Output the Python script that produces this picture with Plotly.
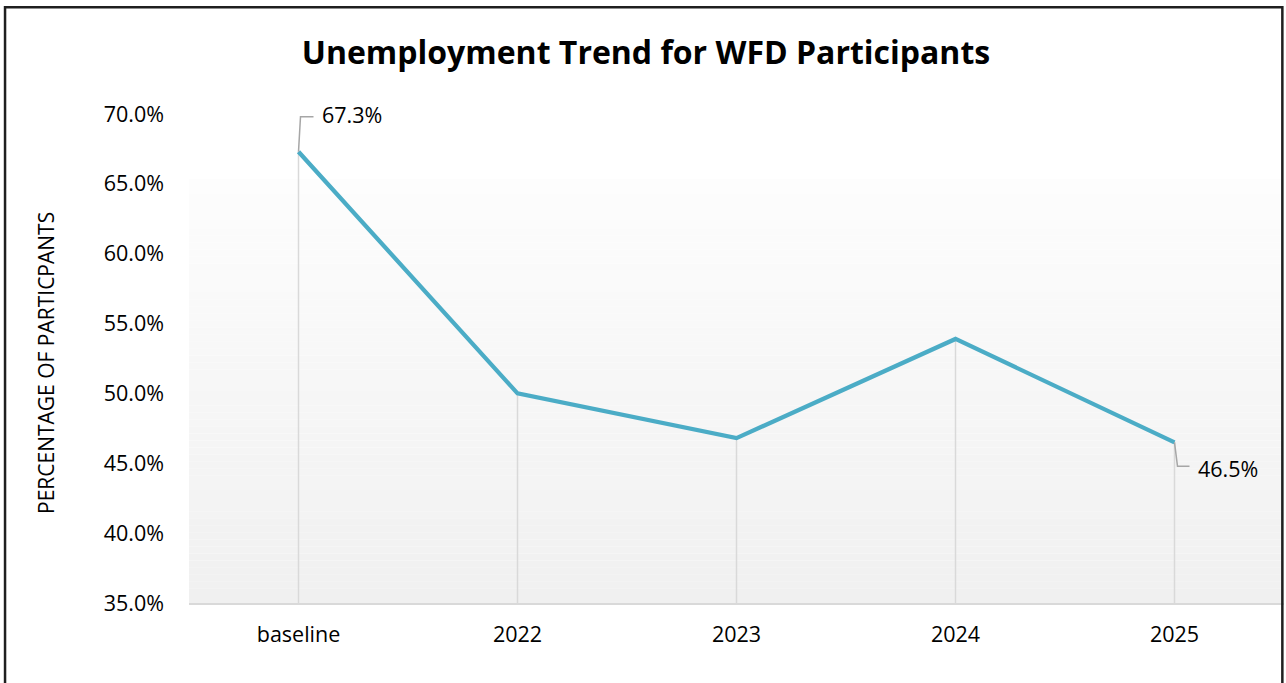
import plotly.graph_objects as go

# Share of WFD participants who were unemployed at each checkpoint
categories = ["baseline", "2022", "2023", "2024", "2025"]
unemployment_pct = [67.3, 50.0, 46.8, 53.9, 46.5]

y_ticks = [35, 40, 45, 50, 55, 60, 65, 70]
y_tick_labels = [f"{t:.1f}%" for t in y_ticks]

LINE_COLOR = "#4BACC6"
DROP_COLOR = "#D9D9D9"
LEADER_COLOR = "#A6A6A6"
FONT = "Open Sans"
LABEL_SIZE = 21.5

x_idx = list(range(len(categories)))

fig = go.Figure()

# Vertical drop lines from each point down to the axis floor
drop_x, drop_y = [], []
for i, v in zip(x_idx, unemployment_pct):
    drop_x += [i, i, None]
    drop_y += [y_ticks[0], v, None]
fig.add_trace(go.Scatter(
    x=drop_x, y=drop_y, mode="lines",
    line=dict(color=DROP_COLOR, width=1.5),
    hoverinfo="skip", showlegend=False,
))

# Main trend line
fig.add_trace(go.Scatter(
    x=x_idx, y=unemployment_pct, mode="lines",
    line=dict(color=LINE_COLOR, width=4.25),
    showlegend=False,
))

shapes = []

# Soft vertical gradient behind the plot area
n_strips = 60
g_top, g_bot = 0.867, 0.0
c_top, c_bot = 253, 240
for k in range(n_strips):
    y0 = g_bot + (g_top - g_bot) * k / n_strips
    y1 = g_bot + (g_top - g_bot) * (k + 1) / n_strips
    c = round(c_bot + (c_top - c_bot) * (k + 0.5) / n_strips)
    shapes.append(dict(
        type="rect", xref="paper", yref="paper",
        x0=0, x1=1, y0=y0, y1=y1,
        fillcolor=f"rgb({c},{c},{c})", line=dict(width=0), layer="below",
    ))

# Outer frame around the whole chart
shapes.append(dict(
    type="rect", xref="paper", yref="paper",
    x0=-0.168, x1=0.9985, y0=-0.3, y1=1.2185,
    line=dict(color="#1F1F1F", width=2.5), fillcolor="rgba(0,0,0,0)",
    layer="above",
))

annotations = []

# Data labels with elbow leader lines on first and last points
label_specs = [
    (0, "M0,0 L2,35 L15,35", 21, 37),
    (4, "M0,0 L3,-24 L15,-24", 21, -26),
]
for i, path, dx, dy in label_specs:
    v = unemployment_pct[i]
    shapes.append(dict(
        type="path", xref="x", yref="y",
        xsizemode="pixel", ysizemode="pixel",
        xanchor=i, yanchor=v, path=path,
        line=dict(color=LEADER_COLOR, width=1.5), layer="above",
    ))
    annotations.append(dict(
        x=i, y=v, xref="x", yref="y", text=f"{v:.1f}%",
        showarrow=False, xanchor="left", yanchor="middle",
        xshift=dx, yshift=dy,
        font=dict(family=FONT, size=LABEL_SIZE, color="#000000"),
    ))

# Rotated y-axis caption
annotations.append(dict(
    x=-0.1305, y=0.491, xref="paper", yref="paper",
    text="PERCENTAGE OF PARTICPANTS", textangle=-90,
    showarrow=False, xanchor="center", yanchor="middle",
    font=dict(family=FONT, size=21, color="#000000"),
))

fig.update_layout(
    width=1286, height=683,
    margin=dict(l=189, r=2, t=114, b=80),
    paper_bgcolor="white", plot_bgcolor="white",
    title=dict(
        text="<b>Unemployment Trend for WFD Participants</b>",
        x=0.5023, xref="container", xanchor="center",
        y=0.923, yref="container", yanchor="middle",
        font=dict(family=FONT, size=32, color="#000000"),
    ),
    shapes=shapes, annotations=annotations,
    showlegend=False,
)

fig.update_xaxes(
    range=[-0.5, 4.5], tickmode="array", tickvals=x_idx, ticktext=categories,
    showgrid=False, zeroline=False, showline=True,
    linecolor=DROP_COLOR, linewidth=2, ticks="",
    ticklabelstandoff=11,
    tickfont=dict(family=FONT, size=LABEL_SIZE, color="#000000"),
)
fig.update_yaxes(
    range=[35, 70], tickmode="array", tickvals=y_ticks, ticktext=y_tick_labels,
    showgrid=False, zeroline=False, showline=False, ticks="",
    ticklabelstandoff=24,
    tickfont=dict(family=FONT, size=LABEL_SIZE, color="#000000"),
)

fig.write_html("out.html")
